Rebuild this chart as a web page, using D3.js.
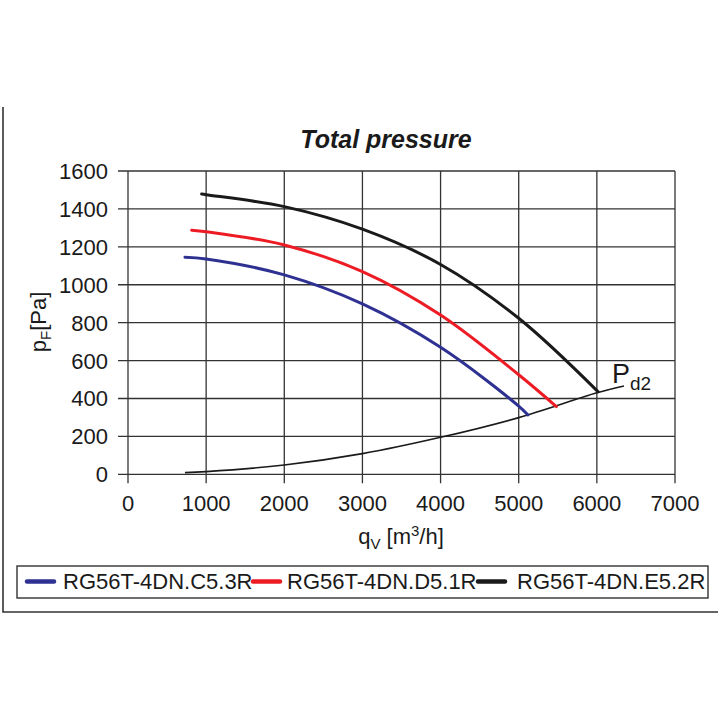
<!DOCTYPE html>
<html><head><meta charset="utf-8">
<script src="https://cdn.jsdelivr.net/npm/d3@7/dist/d3.min.js"></script>
<style>
body{margin:0;background:#fff;}
text{font-family:"Liberation Sans",Arial,Helvetica,sans-serif;fill:#1a1a1a;}
</style></head>
<body><svg id="c" width="720" height="720"></svg>
<script>
const title = "Total pressure";
const xTicks = [0,1000,2000,3000,4000,5000,6000,7000];
const yTicks = [0,200,400,600,800,1000,1200,1400,1600];
const seriesNames = ["RG56T-4DN.C5.3R","RG56T-4DN.D5.1R","RG56T-4DN.E5.2R"];
const seriesColors = ["#2e3192","#ed1c24","#1a1a1a"];
const blueQ = [729,1000,2000,3000,4000,5000,5119];
const blueP = [1145,1136,1052,899,670,360,313];
const redQ = [815,1000,2000,3000,4000,5000,5482];
const redP = [1288,1280,1210,1069,840,525,357];
const blackQ = [942,1000,2000,3000,4000,5000,6014];
const blackP = [1479,1475,1412,1293,1107,823,436];
const pd2Q = [729,1000,2000,3000,4000,5000,6000,6347];
const pd2P = [9,14,49,109,195,299,430,466];

const svg = d3.select("#c");
const x = d3.scaleLinear().domain([0,7000]).range([128,675]);
const y = d3.scaleLinear().domain([0,1600]).range([474.3,171]);

// outer frame (left + bottom)
svg.append("path").attr("d","M3,107V612H718").attr("fill","none").attr("stroke","#333").attr("stroke-width",1.6);

// title
svg.append("text").attr("x",386).attr("y",148).attr("text-anchor","middle")
  .attr("font-size",25).attr("font-weight","bold").attr("font-style","italic").text(title);

// grid + ticks
const g = svg.append("g");
g.selectAll("line.v").data(xTicks).join("line")
  .attr("x1",d=>x(d)).attr("x2",d=>x(d)).attr("y1",y(1600)).attr("y2",y(0)+9)
  .attr("stroke","#333").attr("stroke-width",1.3);
g.selectAll("line.h").data(yTicks).join("line")
  .attr("x1",x(0)-10).attr("x2",x(7000)).attr("y1",d=>y(d)).attr("y2",d=>y(d))
  .attr("stroke","#333").attr("stroke-width",1.3);
g.selectAll("text.yt").data(yTicks).join("text")
  .attr("x",108).attr("y",d=>y(d)+8).attr("text-anchor","end").attr("font-size",22).text(d=>d);
g.selectAll("text.xt").data(xTicks).join("text")
  .attr("x",d=>x(d)).attr("y",511).attr("text-anchor","middle").attr("font-size",22).text(d=>d);

// axis labels
const xl = svg.append("text").attr("x",401).attr("y",544).attr("text-anchor","middle").attr("font-size",22);
xl.append("tspan").text("q");
xl.append("tspan").attr("font-size",15).attr("dy",5).text("V");
xl.append("tspan").attr("dy",-5).text(" [m");
xl.append("tspan").attr("font-size",15).attr("dy",-8).text("3");
xl.append("tspan").attr("dy",8).text("/h]");

const yl = svg.append("text").attr("transform","translate(46,322) rotate(-90)").attr("text-anchor","middle").attr("font-size",22);
yl.append("tspan").text("p");
yl.append("tspan").attr("font-size",15).attr("dy",5).text("F");
yl.append("tspan").attr("dy",-5).text("[Pa]");

// curves
const line = d3.line().x(d=>x(d[0])).y(d=>y(d[1])).curve(d3.curveCatmullRom.alpha(0.5));
const zip = (a,b)=>a.map((v,i)=>[v,b[i]]);
svg.append("path").attr("d",line(zip(pd2Q,pd2P))).attr("fill","none").attr("stroke","#1a1a1a").attr("stroke-width",1.6);
const curves = [zip(blueQ,blueP),zip(redQ,redP),zip(blackQ,blackP)];
curves.forEach((c,i)=>{
  svg.append("path").attr("d",line(c)).attr("fill","none").attr("stroke",seriesColors[i])
    .attr("stroke-width",3).attr("stroke-linecap","round");
});

// Pd2 label
const pl = svg.append("text").attr("x",612).attr("y",383).attr("font-size",27);
pl.append("tspan").text("P");
pl.append("tspan").attr("font-size",19).attr("dy",7).text("d2");

// legend
svg.append("rect").attr("x",17).attr("y",566).attr("width",691).attr("height",32)
  .attr("fill","none").attr("stroke","#333").attr("stroke-width",1.4);
const legX = [27,253,478];
const legTX = [63,287,517];
seriesNames.forEach((n,i)=>{
  svg.append("line").attr("x1",legX[i]).attr("x2",legX[i]+27).attr("y1",581.5).attr("y2",581.5)
    .attr("stroke",seriesColors[i]).attr("stroke-width",4.5).attr("stroke-linecap","round");
  svg.append("text").attr("x",legTX[i]).attr("y",589).attr("font-size",22).text(n);
});
</script></body></html>
